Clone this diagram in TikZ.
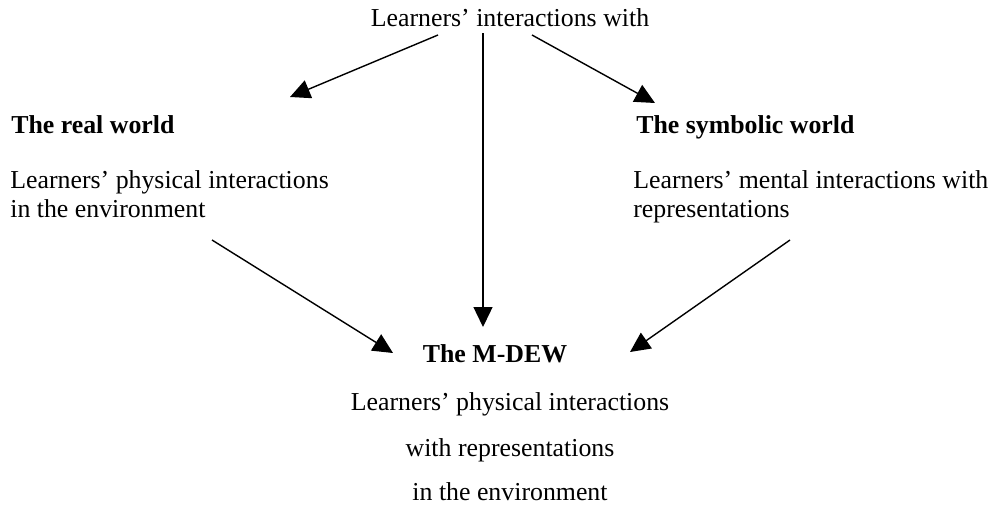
\documentclass[tikz,border=0pt]{standalone}
\usepackage{fontspec}
\setmainfont{Liberation Serif}
\usetikzlibrary{arrows.meta}
\tikzset{
	txt/.style={inner sep=0pt, font=\fontsize{14.7}{17}\selectfont},
	arr/.style={line width=0.8pt, -{Triangle[length=0.4cm, width=0.38cm]}}
}

\begin{document}
\begin{tikzpicture}[x=0.02cm, y=-0.02cm]
			%%%%% START %%%%%
			\useasboundingbox (0, 0) rectangle (1000, 507);
			
			\node[txt, anchor=base] (learn) at (510, 27) {Learners’ interactions with};
			
			\node[txt, anchor=base west] (realT) at (11, 133) {\textbf{The real world}};
			\node[txt, anchor=base west] (real1) at (10, 188) {Learners’ physical interactions};
			\node[txt, anchor=base west] (real2) at (10, 217) {in the environment};
			
			\node[txt, anchor=base west] (symT) at (636, 133) {\textbf{The symbolic world}};
			\node[txt, anchor=base west] (sym1) at (633, 188) {Learners’ mental interactions with};
			\node[txt, anchor=base west] (sym2) at (633, 217) {representations};
			
			\node[txt, anchor=base] (mdewT) at (495, 362) {\textbf{The M-DEW}};
			\node[txt, anchor=base] (mdew1) at (510, 410) {Learners’ physical interactions};
			\node[txt, anchor=base] (mdew2) at (510, 456) {with representations};
			\node[txt, anchor=base] (mdew3) at (510, 500) {in the environment};
			
			\coordinate (learnL) at (438, 35);
			\coordinate (learnM) at (483, 33);
			\coordinate (learnR) at (532, 35);
			\coordinate (realIn) at (290, 97);
			\coordinate (symIn) at (655, 103);
			\coordinate (realOut) at (212, 240);
			\coordinate (symOut) at (790, 240);
			\coordinate (mdewL) at (393, 353);
			\coordinate (mdewM) at (483, 327);
			\coordinate (mdewR) at (630, 352);
			
			\draw[arr] (learnL) -- (realIn);
			\draw[arr] (learnM) -- (mdewM);
			\draw[arr] (learnR) -- (symIn);
			\draw[arr] (realOut) -- (mdewL);
			\draw[arr] (symOut) -- (mdewR);
			%%%%% END %%%%%
		\end{tikzpicture}
\end{document}
